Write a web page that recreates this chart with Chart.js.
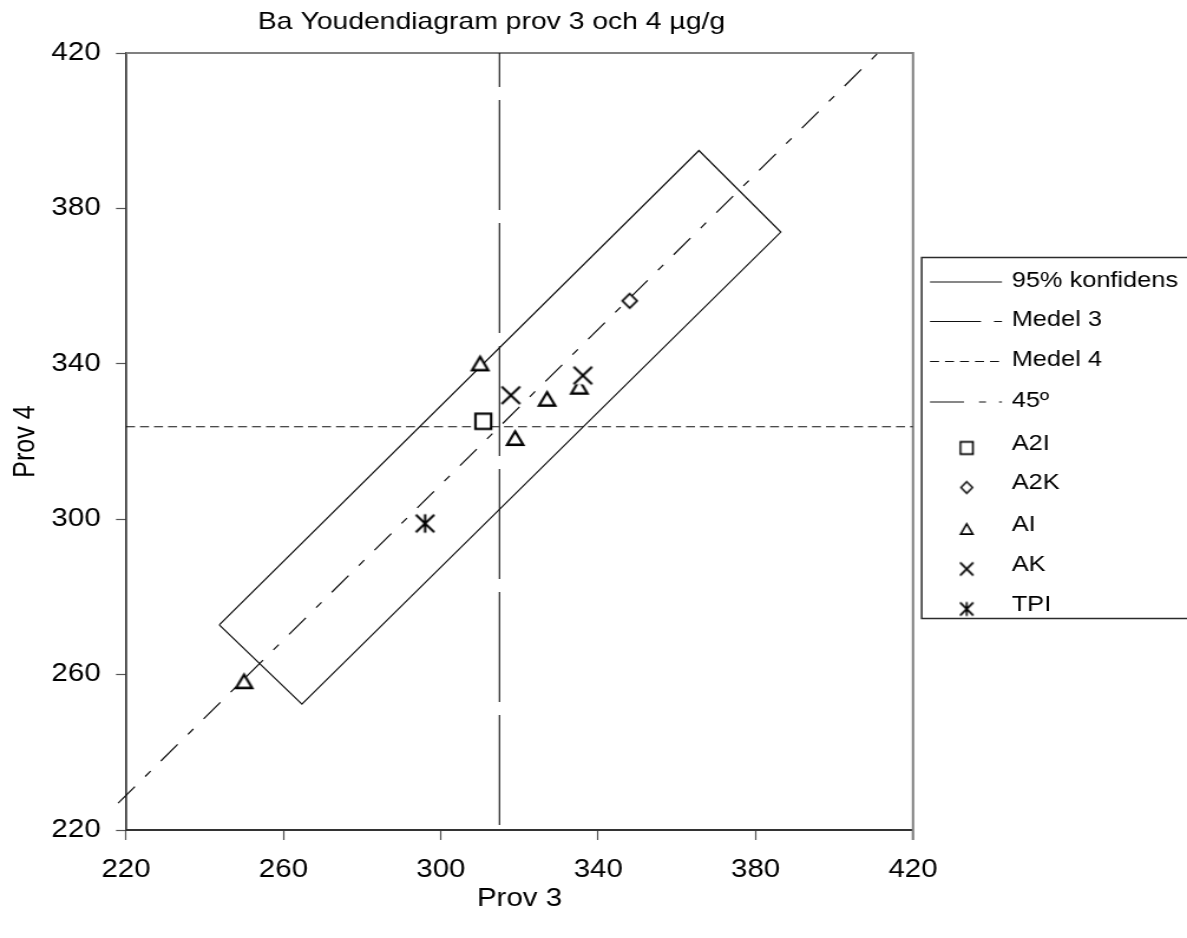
<!DOCTYPE html>
<html lang="sv">
<head>
<meta charset="utf-8">
<title>Ba Youdendiagram</title>
<script src="https://cdn.jsdelivr.net/npm/chart.js@4/dist/chart.umd.min.js"></script>
<style>
    html, body { margin: 0; padding: 0; background: #fff; overflow: hidden; }
    /* diagrammet ritas smalare och dras ut på bredden */
    #wrap { width: 1006px; height: 938px; transform: scaleX(1.17992); transform-origin: 0 0; }
</style>
</head>
<body>
<div id="wrap"><canvas id="youden" width="1006" height="938"></canvas></div>
<script>
// medelvärden prov 3 / prov 4
var medel3 = 314.9;
var medel4 = 323.8;

// skalan, samma på båda axlarna
var skalaMin = 220;
var skalaMax = 420;
var skalaSteg = 40;

// 95% konfidensrektangel (hörnen, sluten)
var konfX = [243.7, 365.6, 386.4, 264.7, 243.7];
var konfY = [272.8, 394.9, 373.9, 252.4, 272.8];

// medellinjerna
var medel3Y = [221.3, 420];
var medel4X = [220, 420];

// 45-graderslinjen genom medelpunkten
var linje45X = [218.0, 413.0];
var linje45Y = [226.9, 421.9];

// laboratoriernas resultat
var a2iX = [310.8];
var a2iY = [325.2];
var a2kX = [348.0];
var a2kY = [356.2];
var aiX = [250.0, 310.0, 318.9, 327.0, 335.2];
var aiY = [258.3, 340.1, 320.9, 331.0, 334.1];
var akX = [317.8, 336.1];
var akY = [331.9, 337.0];
var tpiX = [296.0];
var tpiY = [298.9];

var K = 1.17992; // utdragning i x-led
var typsnitt = '"Liberation Sans", Arial, sans-serif';

function punkter(xs, ys) {
    var arr = [];
    for (var i = 0; i < xs.length; i++) {
        arr.push({ x: xs[i], y: ys[i] });
    }
    return arr;
}

// markörer ritas hopklämda i x så att de blir rätt efter utdragningen
function markor(typ, halv, bredd) {
    var s = Math.ceil(halv * 2 + 8);
    var c = document.createElement('canvas');
    c.width = Math.ceil(s / K);
    c.height = s;
    var g = c.getContext('2d');
    g.setTransform(c.width / s, 0, 0, 1, 0, 0);
    var m = s / 2;
    g.fillStyle = '#fff';
    g.strokeStyle = '#000';
    g.lineWidth = bredd;
    g.lineJoin = 'miter';
    g.beginPath();
    if (typ == 'kvadrat') {
        g.rect(m - halv, m - halv, halv * 2, halv * 2);
        g.fill();
    } else if (typ == 'romb') {
        g.moveTo(m, m - halv);
        g.lineTo(m + halv, m);
        g.lineTo(m, m + halv);
        g.lineTo(m - halv, m);
        g.closePath();
        g.fill();
    } else if (typ == 'triangel') {
        var h = halv * 1.72;
        g.moveTo(m, m - h / 2);
        g.lineTo(m + halv, m + h / 2);
        g.lineTo(m - halv, m + h / 2);
        g.closePath();
        g.fill();
    } else {
        g.fillRect(m - halv, m - halv, halv * 2, halv * 2);
        g.moveTo(m - halv, m - halv);
        g.lineTo(m + halv, m + halv);
        g.moveTo(m + halv, m - halv);
        g.lineTo(m - halv, m + halv);
        if (typ == 'stjarna') {
            g.moveTo(m, m - halv - 0.5);
            g.lineTo(m, m + halv + 0.5);
        }
    }
    g.stroke();
    return c;
}

var linjeBas = {
    type: 'line',
    showLine: true,
    fill: false,
    pointRadius: 0,
    pointHoverRadius: 0,
    borderColor: '#111',
    tension: 0
};

var punktBas = {
    showLine: false,
    borderColor: '#000',
    backgroundColor: '#fff'
};

var datasets = [
    Object.assign({}, linjeBas, {
        label: '95% konfidens', data: punkter(konfX, konfY),
        borderWidth: 1.2, order: 9
    }),
    Object.assign({}, linjeBas, {
        label: 'Medel 3', data: punkter([medel3, medel3], medel3Y),
        borderWidth: 1.1, borderDash: [110, 13], order: 8,
        legendDash: [51 / K, 13 / K, 8 / K, 20]
    }),
    Object.assign({}, linjeBas, {
        label: 'Medel 4', data: punkter(medel4X, [medel4, medel4]),
        borderWidth: 1.2, borderDash: [9 / K, 5 / K], order: 7,
        legendDash: [9 / K, 6 / K]
    }),
    Object.assign({}, linjeBas, {
        label: '45\u00ba', data: punkter(linje45X, linje45Y),
        borderWidth: 1.2, borderDash: [21.8, 13.4, 7, 13.4], order: 6, clip: false,
        legendDash: [34 / K, 15 / K, 7 / K, 13 / K, 9 / K, 20]
    }),
    Object.assign({}, punktBas, {
        label: 'A2I', data: punkter(a2iX, a2iY), order: 5,
        pointStyle: markor('kvadrat', 7.6, 2.4), legendImage: markor('kvadrat', 6.2, 1.8)
    }),
    Object.assign({}, punktBas, {
        label: 'A2K', data: punkter(a2kX, a2kY), order: 4,
        pointStyle: markor('romb', 7.2, 1.8), legendImage: markor('romb', 5.8, 1.6)
    }),
    Object.assign({}, punktBas, {
        label: 'AI', data: punkter(aiX, aiY), order: 3,
        pointStyle: markor('triangel', 7.8, 2.4), legendImage: markor('triangel', 6, 1.8)
    }),
    Object.assign({}, punktBas, {
        label: 'AK', data: punkter(akX, akY), order: 2,
        pointStyle: markor('kryss', 8.8, 2.3), legendImage: markor('kryss', 6.5, 1.8)
    }),
    Object.assign({}, punktBas, {
        label: 'TPI', data: punkter(tpiX, tpiY), order: 1,
        pointStyle: markor('stjarna', 8.8, 2.3), legendImage: markor('stjarna', 6.5, 1.8)
    })
];

// grå ram upptill och till höger om ritytan
var ramPlugin = {
    id: 'ram',
    beforeDatasetsDraw: function (chart) {
        var a = chart.chartArea;
        var ctx = chart.ctx;
        ctx.save();
        ctx.strokeStyle = '#808080';
        ctx.lineWidth = 2;
        ctx.beginPath();
        ctx.moveTo(a.left, a.top);
        ctx.lineTo(a.right, a.top);
        ctx.lineTo(a.right, a.bottom + 10);
        ctx.stroke();
        ctx.restore();
    }
};

// titeln ligger lite till vänster om ritytans mitt
var titelPlugin = {
    id: 'titelPlats',
    afterLayout: function (chart) {
        if (chart.titleBlock) {
            chart.titleBlock.left = 0;
            chart.titleBlock.right = 983 / K;
        }
    }
};

// förklaringen i ruta till höger
var forklaringPlugin = {
    id: 'forklaring',
    afterDraw: function (chart) {
        var ctx = chart.ctx;
        var rader = [281, 320.5, 360.5, 401, 444, 483.5, 525, 565, 605];
        var vx = 921.7 / K;
        ctx.save();
        ctx.lineWidth = 1.5;
        ctx.strokeStyle = '#2b2b2b';
        ctx.strokeRect(vx, 257.5, 300, 361);

        ctx.font = '21.5px ' + typsnitt;
        ctx.textBaseline = 'middle';
        ctx.textAlign = 'left';

        chart.data.datasets.forEach(function (ds, i) {
            var y = rader[i];
            ctx.fillStyle = '#000';
            ctx.fillText(ds.label, 1011.7 / K, y);

            if (ds.showLine) {
                ctx.save();
                ctx.strokeStyle = ds.borderColor;
                ctx.lineWidth = ds.borderWidth;
                ctx.setLineDash(ds.legendDash || []);
                ctx.beginPath();
                ctx.moveTo(930 / K, y + 1);
                ctx.lineTo(1002 / K, y + 1);
                ctx.stroke();
                ctx.restore();
            } else {
                var img = ds.legendImage;
                ctx.drawImage(img, 966.7 / K - img.width / 2, y + 4 - img.height / 2);
            }
        });
        ctx.restore();
    }
};

var axelTicks = {
    min: skalaMin,
    max: skalaMax,
    stepSize: skalaSteg,
    color: '#000',
    font: { family: typsnitt, size: 25 }
};

var ctx = document.getElementById('youden').getContext('2d');
window.youden = new Chart(ctx, {
    type: 'scatter',
    data: { datasets: datasets },
    plugins: [ramPlugin, titelPlugin, forklaringPlugin],
    options: {
        responsive: false,
        animation: false,
        devicePixelRatio: 1,
        layout: { padding: { left: 0, top: 0, right: 1006 - 913 / K, bottom: 0 } },
        plugins: {
            legend: { display: false },
            tooltip: { enabled: false },
            title: {
                display: true,
                text: 'Ba Youdendiagram prov 3 och 4 \u00b5g/g',
                color: '#000',
                font: { family: typsnitt, size: 24, weight: 'normal' },
                padding: { top: 8, bottom: 53 - 8 - 28.8 }
            }
        },
        scales: {
            x: {
                type: 'linear',
                min: skalaMin,
                max: skalaMax,
                afterFit: function (s) { s.height = 108; },
                ticks: Object.assign({}, axelTicks, { padding: 15 }),
                grid: { drawOnChartArea: false, drawTicks: true, tickLength: 10, tickColor: '#555', tickWidth: 1.2 },
                border: { display: true, color: '#333', width: 2 },
                title: {
                    display: true, text: 'Prov 3', color: '#000',
                    font: { family: typsnitt, size: 25 },
                    padding: { top: 0, bottom: 24 }
                }
            },
            y: {
                type: 'linear',
                min: skalaMin,
                max: skalaMax,
                afterFit: function (s) { s.width = 126 / K; },
                ticks: Object.assign({}, axelTicks, { padding: 13 }),
                grid: { drawOnChartArea: false, drawTicks: true, tickLength: 10 / K, tickColor: '#555', tickWidth: 1.2 },
                border: { display: true, color: '#333', width: 2 / K },
                title: {
                    display: true, text: 'Prov 4', color: '#000',
                    font: { family: typsnitt, size: 25 },
                    padding: { top: 7.5, bottom: 0 }
                }
            }
        }
    }
});
</script>
</body>
</html>
